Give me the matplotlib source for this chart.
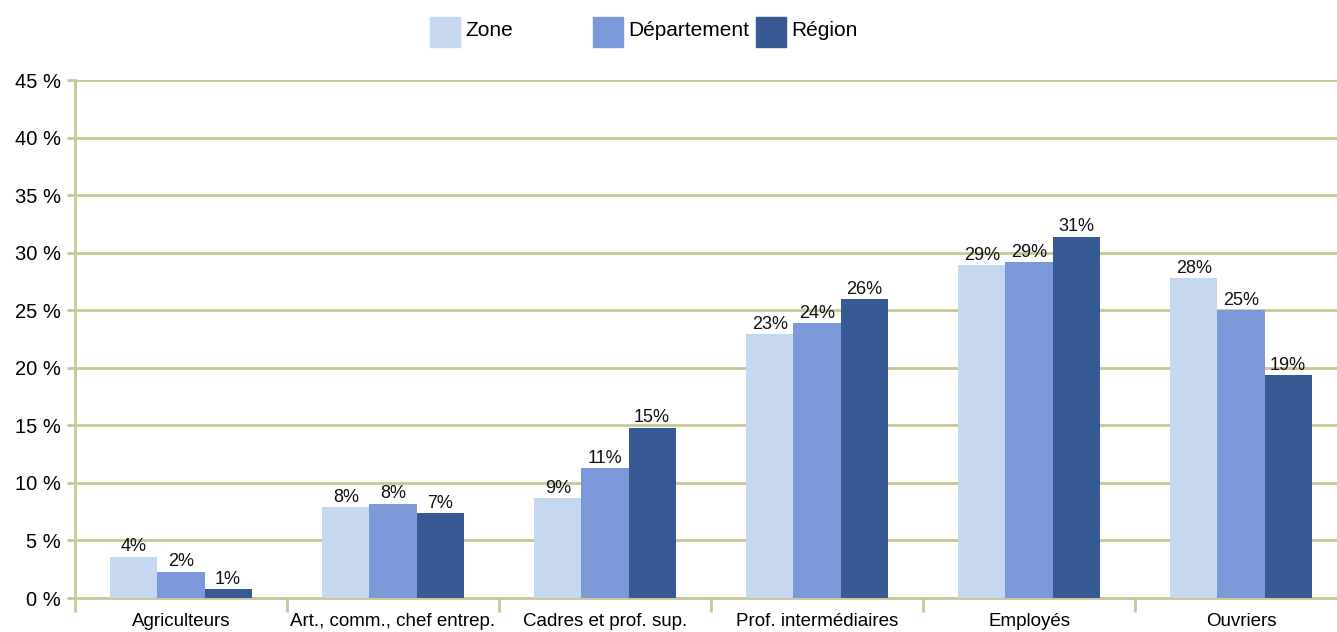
import matplotlib.pyplot as plt
import numpy as np
from matplotlib.patches import Rectangle

plt.rcParams["font.family"] = ["Liberation Sans", "DejaVu Sans"]

categories = ["Agriculteurs", "Art., comm., chef entrep.", "Cadres et prof. sup.",
              "Prof. intermédiaires", "Employés", "Ouvriers"]
zone = [3.6, 7.9, 8.7, 22.9, 28.9, 27.8]
departement = [2.3, 8.2, 11.3, 23.9, 29.2, 25.0]
region = [0.8, 7.4, 14.8, 26.0, 31.4, 19.4]
series_names = ["Zone", "Département", "Région"]
colors = ["#C6D7F0", "#7B98D8", "#375A94"]
grid_color = "#C8C896"

fig = plt.figure(figsize=(13.37, 6.32), dpi=100)
ax = fig.add_axes([75 / 1337, 34 / 632, 1272 / 1337, 518 / 632])

x = np.arange(len(categories))
width = 0.222
for i, (vals, col) in enumerate(zip((zone, departement, region), colors)):
    pos = x + (i - 1) * width
    ax.bar(pos, vals, width=width, color=col, zorder=3)
    for xb, v in zip(pos, vals):
        ax.text(xb, v + 0.1, f"{round(v)}%", ha="center", va="bottom",
                fontsize=13, color="#111111", zorder=4)

ax.set_xlim(-0.5, len(categories) - 0.5)
ax.set_ylim(0, 45)
ax.set_yticks(range(0, 46, 5))
ax.set_yticklabels([f"{t} %" for t in range(0, 46, 5)], fontsize=14.5)
ax.yaxis.grid(True, color=grid_color, linewidth=2, zorder=0)
ax.tick_params(axis="y", length=6, width=2, color=grid_color, pad=4)

ax.set_xticks(np.arange(-0.5, len(categories), 1))
ax.set_xticklabels([])
ax.tick_params(axis="x", length=10, width=2, color=grid_color)
ax.set_xticks(x, minor=True)
ax.set_xticklabels(categories, minor=True, fontsize=13.5)
ax.tick_params(axis="x", which="minor", length=0, pad=11)

for side in ("top", "right"):
    ax.spines[side].set_visible(False)
for side in ("left", "bottom"):
    ax.spines[side].set_color(grid_color)
    ax.spines[side].set_linewidth(2)

# legend, laid out by hand like the original
legend_x = [430, 593, 756]
for lx, name, col in zip(legend_x, series_names, colors):
    fig.patches.append(Rectangle((lx / 1337, 1 - 47 / 632), 30 / 1337, 30 / 632,
                                 transform=fig.transFigure, color=col))
    fig.text((lx + 35) / 1337, 1 - 31 / 632, name, fontsize=15, va="center")

fig.savefig("out.png", dpi=100)
